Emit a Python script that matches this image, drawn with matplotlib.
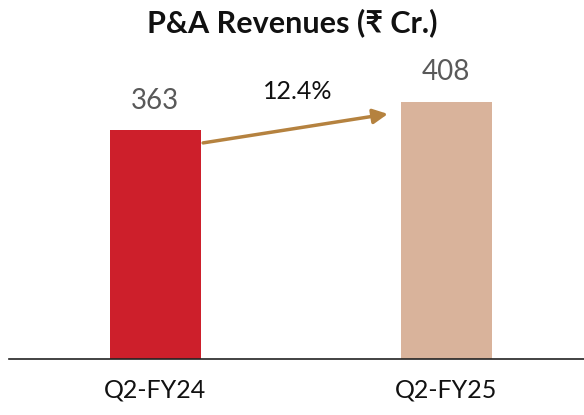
import matplotlib
matplotlib.use("Agg")
import matplotlib.pyplot as plt

plt.rcParams['font.family'] = ['Lato', 'DejaVu Sans']

categories = ['Q2-FY24', 'Q2-FY25']
revenues = [363, 408]
growth_label = '12.4%'
bar_colors = ['#CD1F2B', '#D9B39B']

fig = plt.figure(figsize=(5.84, 4.15), dpi=100)
# axes spans from baseline start to right edge
ax = fig.add_axes([9 / 584, 56 / 415, 575 / 584, 315 / 415])

x = list(range(len(categories)))
ax.bar(x, revenues, width=0.313, color=bar_colors, zorder=2)
ax.set_xlim(-0.502, 1.474)
ax.set_ylim(0, 500)

for xi, v in zip(x, revenues):
    ax.annotate(str(v), (xi, v), xytext=(0, 12), textcoords='offset points',
                ha='center', va='bottom', fontsize=20, color='#595959')

# growth arrow between the two bars
ax.annotate('', xy=(0.80, revenues[1] - 19), xytext=(0.165, revenues[0] - 20),
            arrowprops=dict(arrowstyle='-|>', color='#B5823F', lw=2.5,
                            mutation_scale=22, shrinkA=0, shrinkB=0))
ax.text(0.49, (revenues[0] + revenues[1]) / 2 + 39, growth_label, ha='center',
        va='center', fontsize=18, color='#111111')

for s in ['top', 'right', 'left']:
    ax.spines[s].set_visible(False)
ax.spines['bottom'].set_color('#222222')
ax.spines['bottom'].set_linewidth(1.2)
ax.set_yticks([])
ax.set_xticks(x)
ax.set_xticklabels(categories, fontsize=18, color='#111111')
ax.tick_params(axis='x', length=0, pad=14)

fig.text(0.5, 0.945, 'P&A Revenues (₹ Cr.)', ha='center', va='center',
         fontsize=22, fontweight='bold', color='#111111',
         family=['Lato', 'DejaVu Sans'])

fig.savefig('out.png', dpi=100)
